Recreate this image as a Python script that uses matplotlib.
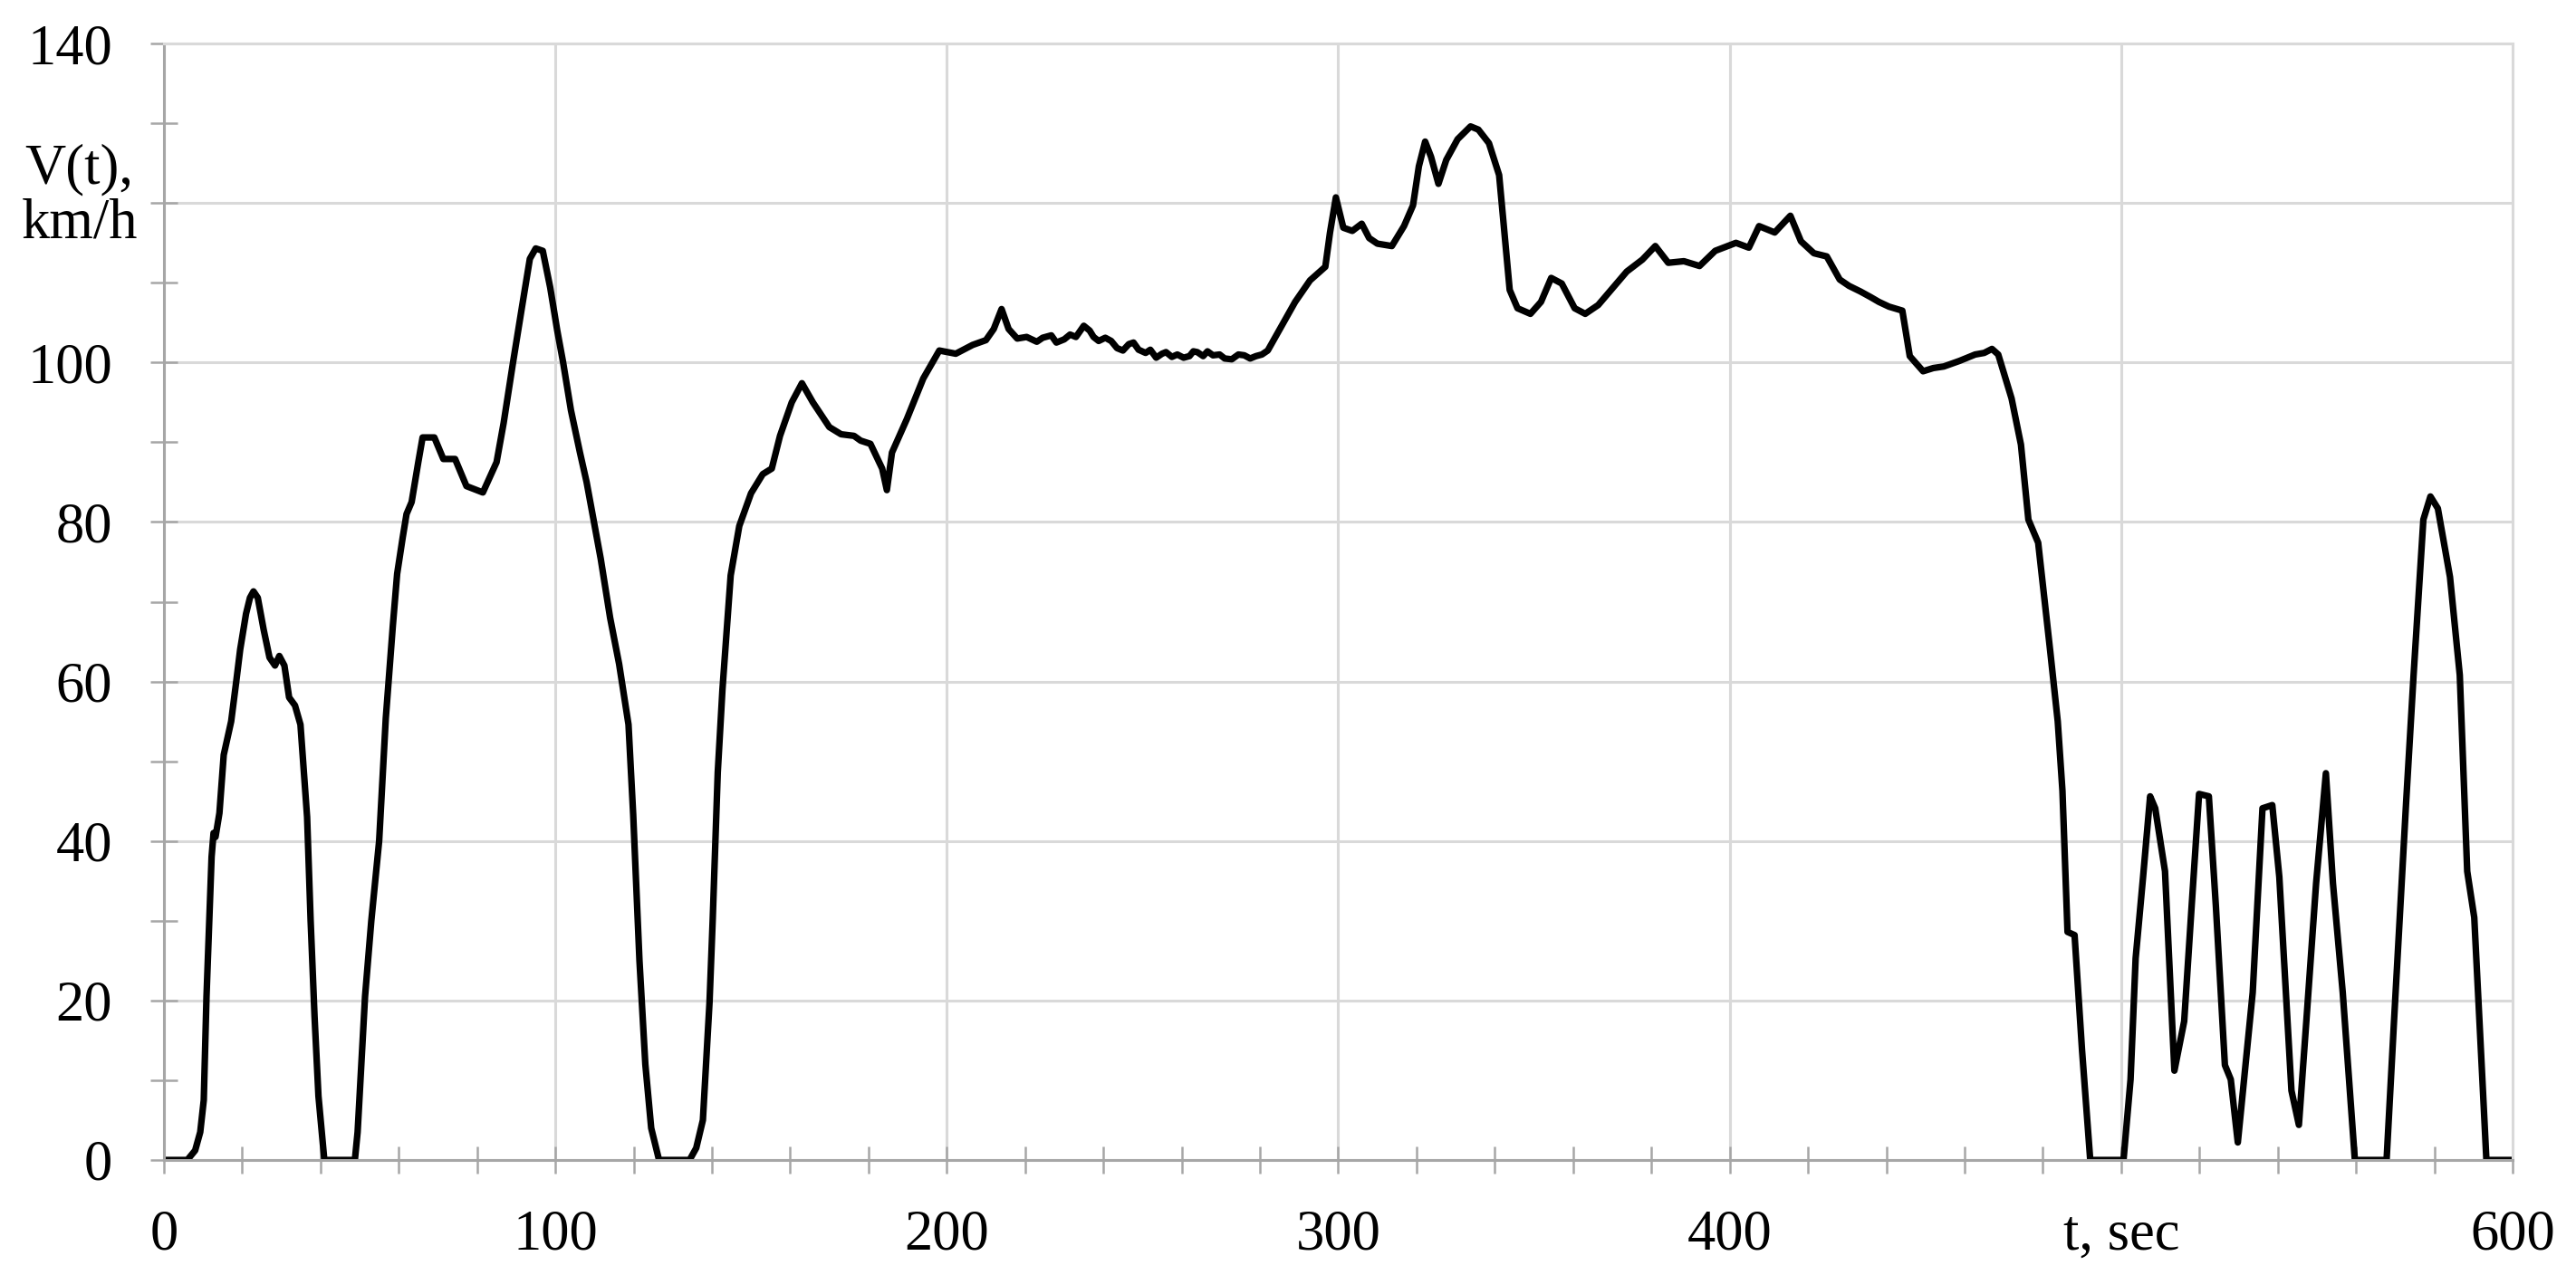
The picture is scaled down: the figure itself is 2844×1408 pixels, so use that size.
import matplotlib
matplotlib.use("Agg")
import matplotlib.pyplot as plt
from matplotlib.ticker import MultipleLocator, FixedLocator
import matplotlib.transforms as mtransforms

# speed trace: time (s) and speed (km/h)
time_s = [
    0, 6, 8, 9.3, 10.2, 10.9, 11.6, 12.2, 12.7, 13.2, 14.2, 15.3, 17.2, 18.5, 19.5,
    21, 22, 22.9, 24, 25.5, 27, 28.4, 29.5, 30.8, 32, 33.5, 34.9, 36.6, 37.5, 38.5,
    39.5, 41, 48.8, 49.5, 51.4, 53, 55, 56.7, 58.5, 59.6, 61, 62, 63.3, 65, 66.1,
    69.1, 71.4, 74.4, 77.3, 81.5, 85, 86.8, 89.2, 91.5, 93.5, 95, 96.8, 98.7, 100.5,
    102, 104, 106.3, 108, 111.6, 114, 116.3, 118.7, 119.9, 121.5, 123, 124.5, 126.5,
    134.3, 136, 137.7, 139.4, 140.2, 141.5, 142.7, 144.8, 147, 150, 153, 155.3, 157.4,
    160.4, 163, 165.8, 170, 173, 176.3, 178, 180.5, 183.5, 184.7, 186, 189.8, 194,
    198.1, 202.3, 206.6, 210, 212, 214, 215.8, 218, 220.4, 223, 224.5, 226.7, 228,
    230, 231.5, 233, 235, 236.5, 237.5, 238.8, 240.5, 242, 243.5, 245, 246.5, 247.7,
    249, 250.8, 252, 253.5, 255, 256, 257.5, 258.9, 260.5, 262, 263, 264, 265.5,
    266.6, 268, 269.7, 271, 272.8, 274.5, 276, 277.5, 279, 280.5, 282, 285.1, 289,
    292.8, 296.7, 297.9, 299.4, 301.3, 303.6, 306, 307.9, 310, 313.7, 316.8, 319.1,
    320.6, 322.2, 323.7, 325.6, 327.6, 330.5, 333.8, 335.8, 338.5, 341.1, 343.8,
    345.8, 349.1, 351.8, 354.4, 357.1, 360.4, 363.1, 366.4, 369.7, 373.7, 377.7, 381,
    384.3, 388.3, 392.3, 396.3, 401.6, 404.9, 407.5, 411.5, 415.5, 418.2, 421.5,
    424.8, 428.1, 430.5, 433.4, 436, 438.1, 440.7, 444.1, 446, 449.4, 452, 454.7,
    458.7, 462.7, 465, 467, 468.6, 472, 474.4, 476.3, 478.8, 481.9, 483.8, 485,
    486.3, 488.1, 490, 492.1, 500.6, 502.4, 503.7, 505.6, 507.4, 508.7, 511.2, 513.6,
    516.1, 518, 519.9, 522.4, 524.2, 526.5, 528, 529.8, 531.7, 533.6, 536.1, 538.6,
    540.4, 543.5, 545.4, 547.3, 549.8, 552.3, 554.1, 556.6, 559.7, 567.8, 569.7,
    572.8, 574.7, 577.2, 579, 580.9, 584, 586.5, 588.4, 590.2, 593.3, 600,
]
speed_kmh = [
    0, 0, 1.2, 3.5, 7.5, 20.5, 30, 38, 41, 40.5, 43.5, 50.8, 55, 60, 64,
    68.5, 70.5, 71.3, 70.5, 66.5, 63, 62, 63.2, 62, 58, 57, 54.6, 43, 30, 18,
    8, 0, 0, 3.5, 20.5, 30, 40, 55.4, 67, 73.5, 78, 81, 82.5, 87.5, 90.6,
    90.6, 87.9, 87.9, 84.5, 83.7, 87.5, 92.4, 100, 107, 113, 114.3, 114, 109.4, 104,
    100, 94, 88.7, 85, 75.4, 68, 62.2, 54.6, 43.3, 25, 12, 4, 0,
    0, 1.5, 5, 19.8, 30, 48.6, 59, 73.3, 79.5, 83.6, 86, 86.7, 90.8,
    95, 97.4, 95, 91.9, 91, 90.8, 90.2, 89.8, 86.7, 84, 88.7, 92.9, 98,
    101.5, 101.1, 102.2, 102.8, 104.2, 106.7, 104.2, 103, 103.2, 102.6, 103.1, 103.4, 102.5,
    102.9, 103.5, 103.2, 104.6, 104, 103.2, 102.7, 103.1, 102.7, 101.8, 101.5, 102.3, 102.5,
    101.6, 101.2, 101.6, 100.6, 101.1, 101.3, 100.7, 101, 100.6, 100.8, 101.4, 101.3, 100.8,
    101.4, 100.9, 101, 100.5, 100.4, 101, 100.9, 100.5, 100.8, 101, 101.5, 104.2, 107.6,
    110.3, 112, 116.3, 120.7, 116.9, 116.5, 117.4, 115.6, 114.9, 114.6, 117.1, 119.7,
    124.6, 127.7, 125.8, 122.4, 125.4, 128, 129.6, 129.2, 127.5, 123.5, 109.1,
    106.8, 106.1, 107.6, 110.6, 109.9, 106.8, 106.1, 107.2, 109.1, 111.4, 112.9, 114.6,
    112.5, 112.7, 112.1, 114, 115, 114.4, 117.1, 116.3, 118.4, 115.2, 113.7,
    113.3, 110.4, 109.6, 108.9, 108.2, 107.6, 107, 106.5, 100.8, 98.9, 99.3, 99.5,
    100.2, 101, 101.2, 101.7, 101, 95.5, 89.7, 80.3, 77.4, 63.7, 55, 46.3,
    28.6, 28.2, 13.8, 0, 0, 10.1, 25.3, 35.5, 45.6, 44.1, 36.2, 11.2,
    17.4, 31.8, 45.9, 45.6, 31.8, 11.9, 10.1, 2.2, 11.6, 21, 44.1, 44.5,
    35.5, 8.7, 4.4, 17.4, 34.7, 48.5, 34.7, 21, 0, 0, 17.4,
    44.9, 60.8, 80.3, 83.2, 81.7, 73.1, 60.8, 36.2, 30.4, 0, 0,
]

x_ticks = [0, 100, 200, 300, 400, 500, 600]
x_labels = ["0", "100", "200", "300", "400", "t, sec", "600"]
y_ticks = [0, 20, 40, 60, 80, 100, 120, 140]
y_labels = ["0", "20", "40", "60", "80", "100", "", "140"]

plt.rcParams["font.family"] = ["Liberation Serif", "DejaVu Serif"]

fig = plt.figure(figsize=(14.22, 7.04), dpi=200)
ax = fig.add_axes([0.0636, 0.0902, 0.9118, 0.8757])

ax.plot(time_s, speed_kmh, color="black", lw=2.6, solid_joinstyle="round")

ax.set_xlim(0, 600)
ax.set_ylim(0, 140)

grid_c = "#d9d9d9"
axis_c = "#a6a6a6"

ax.xaxis.set_major_locator(FixedLocator(x_ticks))
ax.set_xticklabels(x_labels)
ax.xaxis.set_minor_locator(MultipleLocator(20))
ax.yaxis.set_major_locator(FixedLocator(y_ticks))
ax.set_yticklabels(y_labels)
ax.yaxis.set_minor_locator(MultipleLocator(10))

ax.grid(True, which="major", color=grid_c, lw=1.1)
ax.set_axisbelow(True)

ax.tick_params(axis="both", which="both", direction="inout", length=11,
               width=0.9, color=axis_c, labelsize=22.5)
ax.tick_params(axis="x", which="major", pad=14)
ax.tick_params(axis="y", which="major", pad=15)

for side in ("left", "bottom"):
    ax.spines[side].set_color(axis_c)
    ax.spines[side].set_linewidth(1.1)
for side in ("top", "right"):
    ax.spines[side].set_color(grid_c)
    ax.spines[side].set_linewidth(1.1)

# y-axis caption sits in place of the 120 label
trans = mtransforms.blended_transform_factory(ax.transAxes, ax.transData)
ax.text(-0.036, 120.8, "V(t),\nkm/h", transform=trans, ha="center", va="center",
        fontsize=22.5, linespacing=1.05)

fig.savefig("out.png", dpi=200, facecolor="white")
